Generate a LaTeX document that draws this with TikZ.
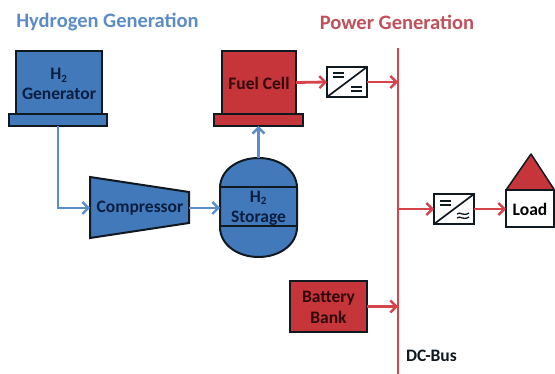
\documentclass[tikz,border=0pt]{standalone}
\usepackage{fontspec}
\setmainfont{Carlito}
\usetikzlibrary{arrows.meta}
\definecolor{bfill}{HTML}{4279BB}
\definecolor{rfill}{HTML}{C5353A}
\definecolor{bline}{HTML}{5A8DCB}
\definecolor{rline}{HTML}{D5444A}
\definecolor{btitle}{HTML}{5C8CC6}
\definecolor{rtitle}{HTML}{C0505A}
\definecolor{ink}{HTML}{101820}
\definecolor{binK}{HTML}{0A1E40}
\definecolor{rinK}{HTML}{30080C}
\tikzset{
  x=1pt,y=-1pt,
  every node/.style={inner sep=0pt,outer sep=0pt,font=\bfseries\fontsize{17.5}{20}\selectfont,align=center},
  title/.style={font=\bfseries\fontsize{20.5}{24}\selectfont,anchor=center},
  blueshape/.style={draw=ink,line width=2pt,fill=bfill,text=binK,line join=miter},
  redshape/.style={draw=ink,line width=2pt,fill=rfill,text=rinK},
  blab/.style={text=binK},
  rlab/.style={text=rinK},
  conv/.style={draw=ink,line width=2.2pt,fill=white,minimum width=40pt,minimum height=30pt},
  sym/.style={draw=ink,line width=1.7pt},
  bflow/.style={draw=bline,line width=2.8pt,-{Straight Barb[length=6pt,width=12pt,line width=2.4pt]}},
  rflow/.style={draw=rline,line width=2.8pt,-{Straight Barb[length=6pt,width=12pt,line width=2.4pt]}},
  rwire/.style={draw=rline,line width=2.8pt},
}
\newcommand{\twoH}{H\textsubscript{\fontsize{11}{11}\selectfont 2}}
\begin{document}
\begin{tikzpicture}
\useasboundingbox (0,0) rectangle (555,374);
\node[title,text=btitle] (thyd) at (107.5,22) {Hydrogen Generation};
\node[title,text=rtitle] (tpow) at (397,22) {Power Generation};

% H2 generator
\node[blueshape,minimum width=98pt,minimum height=12pt] (genbase) at (58,120) {};
\node[blueshape,minimum width=86pt,minimum height=63pt] (gen) at (59,82.5) {};
\node[blab] (gentext) at (59,84) {\twoH\\Generator};

% fuel cell
\node[redshape,minimum width=89pt,minimum height=12pt] (fcbase) at (258.5,120) {};
\node[redshape,minimum width=74pt,minimum height=63pt] (fc) at (259,82.5) {};
\node[rlab] (fctext) at (259,83) {Fuel Cell};

% compressor
\coordinate (compW) at (90,208);
\coordinate (compE) at (189,208);
\fill[bfill,draw=ink,line width=2pt,line join=miter] (90,177) -- (189,192) -- (189,223) -- (90,238) -- cycle;
\node[blab] (comp) at (140,208) {Compressor};

% storage
\fill[bfill,draw=ink,line width=2pt] (220,188) .. controls (220,170) and (238,158) .. (258.5,158)
  .. controls (279,158) and (297,170) .. (297,188) -- (297,227)
  .. controls (297,245) and (279,257) .. (258.5,257)
  .. controls (238,257) and (220,245) .. (220,227) -- cycle;
\draw[ink,line width=1.8pt] (220,187) -- (297,187) (220,226) -- (297,226);
\node[blab] (stor) at (258.5,208) {\twoH\\Storage};
\coordinate (storW) at (220,208);
\coordinate (storN) at (258.5,158);

% battery
\node[redshape,minimum width=77pt,minimum height=51pt] (bat) at (328.5,306.5) {};
\node[rlab] (battext) at (328.5,307) {Battery\\[1pt]Bank};

% converters
\node[conv] (c1) at (347,82) {};
\draw[sym] (c1.south west) -- (c1.north east);
\draw[sym] (333,73) -- (344,73) (333,77) -- (344,77) (351,87) -- (362,87) (351,91) -- (362,91);
\node[conv] (c2) at (454,209) {};
\draw[sym] (c2.south west) -- (c2.north east);
\draw[sym] (440,201) -- (451,201) (440,205) -- (451,205);
\draw[sym,line width=1.3pt] (457,214) .. controls (460,211) and (463,217) .. (469,213)
  (457,218) .. controls (460,215) and (463,221) .. (469,217);

% load
\node[draw=ink,line width=2pt,fill=white,text=black,minimum width=48pt,minimum height=37pt,anchor=north west] (load) at (506,190.5) {Load};
\fill[rfill,draw=ink,line width=1.5pt,line join=round] (506,190) -- (531,154) -- (554.5,190) -- cycle;

% bus
\coordinate (bustop) at (398,48);
\coordinate (busbot) at (398,374);
\draw[rwire] (bustop) -- (busbot);
\node[text=ink,anchor=west] (dcbus) at (406,356) {DC-Bus};

% connectors
\draw[bflow] (genbase.south) |- (compW);
\draw[bflow] (compE) -- (storW);
\draw[bflow] (storN) -- (storN |- fcbase.south);
\draw[rflow] (fc.east) -- (c1.west);
\draw[rflow] (c1.east) -- (c1.east -| bustop);
\draw[rflow] (bat.east) -- (bat.east -| bustop);
\draw[rflow] (c2.west -| bustop) -- (c2.west);
\draw[rflow] (c2.east) -- (load.west);
\end{tikzpicture}
\end{document}
